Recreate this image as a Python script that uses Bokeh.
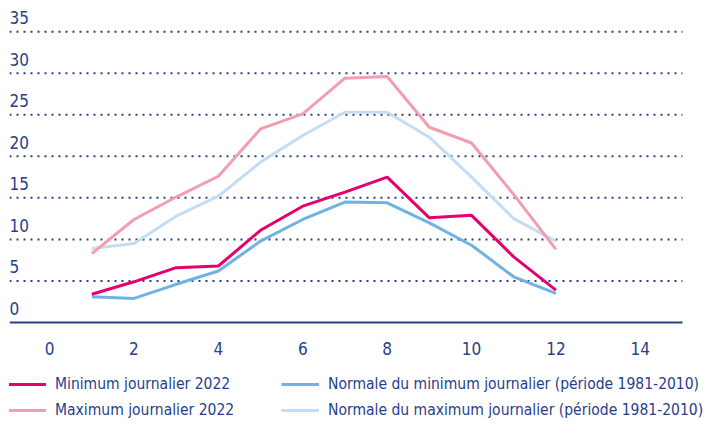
from bokeh.plotting import figure
from bokeh.models import Legend, LegendItem, Range1d
from bokeh.core.properties import value
from bokeh.embed import file_html
from bokeh.resources import INLINE

months = [1, 2, 3, 4, 5, 6, 7, 8, 9, 10, 11, 12]
min_2022 = [3.4, 4.9, 6.6, 6.8, 11.1, 14.0, 15.7, 17.5, 12.6, 12.9, 7.9, 3.9]
max_2022 = [8.3, 12.4, 15.1, 17.6, 23.3, 25.1, 29.4, 29.6, 23.5, 21.6, 15.4, 8.8]
norm_min = [3.1, 2.9, 4.6, 6.2, 9.8, 12.4, 14.5, 14.4, 12.0, 9.3, 5.5, 3.5]
norm_max = [8.9, 9.5, 12.8, 15.2, 19.3, 22.5, 25.3, 25.3, 22.3, 17.5, 12.5, 9.8]
y_ticks = [0, 5, 10, 15, 20, 25, 30, 35]
x_ticks = [0, 2, 4, 6, 8, 10, 12, 14]

FONT = "DejaVu Sans Condensed"
NAVY = "#27408b"
X0, X1 = -0.95, 15.0

p = figure(width=711, height=423, output_backend="svg", toolbar_location=None,
           x_range=Range1d(X0, 15.687), y_range=Range1d(-12.15, 38.75),
           x_axis_location=None, y_axis_location=None,
           min_border_left=9, min_border_right=0, min_border_top=0,
           min_border_bottom=0, outline_line_color=None)
p.xgrid.visible = False
p.ygrid.visible = False

# dotted horizontal gridlines and solid x axis line
grid_y = y_ticks[1:]
p.segment(x0=[X0] * len(grid_y), x1=[X1] * len(grid_y), y0=grid_y, y1=grid_y,
          line_color=NAVY, line_width=2, line_dash="2 5")
p.segment(x0=[X0], x1=[X1], y0=[0], y1=[0], line_color=NAVY, line_width=2)

p.text(x=[X0] * len(y_ticks), y=y_ticks, text=[str(t) for t in y_ticks],
       text_font=value(FONT), text_font_size="17px", text_color=NAVY,
       text_baseline="middle", text_align="left", y_offset=-14)
p.text(x=x_ticks, y=[0] * len(x_ticks), text=[str(t) for t in x_ticks],
       text_font=value(FONT), text_font_size="17px", text_color=NAVY,
       text_baseline="middle", text_align="center", y_offset=26)

r4 = p.line(months, norm_max, line_color="#c5ddf3", line_width=3)
r2 = p.line(months, max_2022, line_color="#f29db2", line_width=3)
r3 = p.line(months, norm_min, line_color="#6fb3e3", line_width=3)
r1 = p.line(months, min_2022, line_color="#e5006d", line_width=3)

common = dict(orientation="vertical", glyph_width=38, label_standoff=9,
              label_text_font=FONT, label_text_font_size="15.5px", label_text_color=NAVY,
              spacing=6, padding=0, margin=0, border_line_color=None,
              background_fill_alpha=0)
leg1 = Legend(items=[
    LegendItem(label="Minimum journalier 2022", renderers=[r1]),
    LegendItem(label="Maximum journalier 2022", renderers=[r2]),
], location=(-1, 3), **common)
leg2 = Legend(items=[
    LegendItem(label="Normale du minimum journalier (période 1981-2010)", renderers=[r3]),
    LegendItem(label="Normale du maximum journalier (période 1981-2010)", renderers=[r4]),
], location=(272, 3), **common)
p.add_layout(leg1)
p.add_layout(leg2)

open("out.html", "w").write(file_html(p, INLINE))
